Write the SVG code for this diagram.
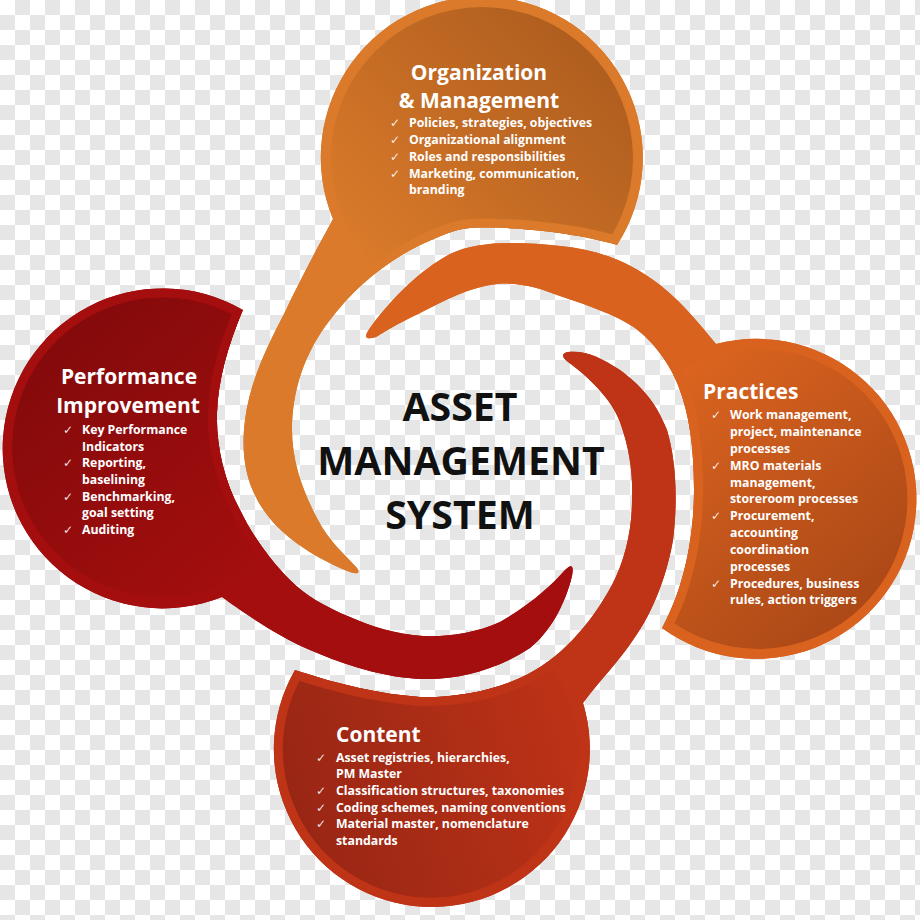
<svg xmlns="http://www.w3.org/2000/svg" xmlns:xlink="http://www.w3.org/1999/xlink" width="920" height="920" viewBox="0 0 920 920">
<style>
.t{font-family:"Open Sans","Liberation Sans",sans-serif;font-weight:700;fill:#fff}
.h{font-size:21px}
.b{font-size:12.3px}
.ck{font-family:"DejaVu Sans",sans-serif;font-size:12px;fill:#fff;fill-opacity:0.9}
.c{font-family:"Open Sans","Liberation Sans",sans-serif;font-weight:700;font-size:39.3px;fill:#111;text-anchor:middle}
</style>
<defs>
<pattern id="checker" width="30" height="30" patternUnits="userSpaceOnUse">
<rect width="30" height="30" fill="#fff"/>
<rect x="15" width="15" height="15" fill="#e6e6e6"/>
<rect y="15" width="15" height="15" fill="#e6e6e6"/>
</pattern>
<path id="p-org" d="M 617 245 A 161 161 0 1 0 333 219 C 320 243 300 280 285 312 C 268 345 250 380 245 420 C 240 460 248 488 265 512 C 285 540 320 560 350 572 Q 362 576 357 568 C 345 555 328 540 318 520 C 303 492 292 462 292 430 C 292 390 305 352 330 320 C 352 290 385 262 420 245 C 440 236 455 229 470 228 C 510 226 575 232 617 245 Z"/>
<path id="p-prac" d="M 662 628 A 160 160 0 1 0 716 344 C 700 325 685 305 660 285 C 630 262 600 250 560 246 C 520 242 480 240 450 254 C 420 270 390 300 370 328 Q 360 342 376 337 C 390 328 405 320 420 313 C 445 300 470 287 497 284 C 520 282 540 288 560 296 C 590 306 615 315 632 326 C 650 338 668 360 678 385 C 690 415 694 450 694 490 C 694 540 683 590 662 628 Z"/>
<path id="p-cont" d="M 295 670 A 158 158 0 1 0 583 703 C 600 680 620 660 633 640 C 655 610 668 570 673 540 C 678 500 676 460 667 430 C 655 400 640 385 620 370 C 600 357 585 350 568 352 Q 558 354 568 362 C 590 378 612 400 620 422 C 630 450 633 475 632 500 C 632 530 625 560 612 585 C 590 625 560 660 520 678 C 490 692 450 698 420 697 C 380 694 340 685 295 670 Z"/>
<path id="p-perf" d="M 243 310 A 160 160 0 1 0 222 597 C 240 610 275 635 310 650 C 345 665 385 678 423 679 C 460 680 500 668 530 648 C 550 632 565 605 572 576 Q 575 560 565 570 C 552 585 530 605 500 622 C 475 633 450 637 423 636 C 395 634 370 626 350 617 C 325 607 305 595 290 580 C 270 560 252 535 240 510 C 224 480 216 445 217 413 C 218 380 228 345 243 310 Z"/>
<clipPath id="c-org"><use xlink:href="#p-org"/></clipPath>
<clipPath id="c-prac"><use xlink:href="#p-prac"/></clipPath>
<clipPath id="c-cont"><use xlink:href="#p-cont"/></clipPath>
<clipPath id="c-perf"><use xlink:href="#p-perf"/></clipPath>
<linearGradient id="g-org" x1="0.15" y1="0.85" x2="0.9" y2="0.1"><stop offset="0" stop-color="#d97a2a"/><stop offset="1" stop-color="#ad5c1e"/></linearGradient>
<linearGradient id="g-prac" x1="0.2" y1="0.15" x2="0.85" y2="0.9"><stop offset="0" stop-color="#d9631f"/><stop offset="1" stop-color="#ab4817"/></linearGradient>
<linearGradient id="g-cont" x1="1" y1="0.3" x2="0" y2="0.6"><stop offset="0" stop-color="#be3317"/><stop offset="1" stop-color="#982614"/></linearGradient>
<linearGradient id="g-perf" x1="0.85" y1="0.9" x2="0.15" y2="0.1"><stop offset="0" stop-color="#a40e0e"/><stop offset="1" stop-color="#840a0b"/></linearGradient>
</defs>
<rect width="920" height="920" fill="url(#checker)"/>

<g id="node-org">
<use xlink:href="#p-org" fill="#da7a2a"/>
<circle cx="482" cy="158" r="151" fill="url(#g-org)" clip-path="url(#c-org)"/>
<use xlink:href="#p-org" fill="none" stroke="#da7a2a" stroke-width="18" clip-path="url(#c-org)"/>
<text class="t h" x="479" y="80" text-anchor="middle">Organization</text>
<text class="t h" x="479" y="108" text-anchor="middle">&amp; Management</text>
<text class="ck" x="390" y="127">✓</text><text class="t b" x="409" y="127">Policies, strategies, objectives</text>
<text class="ck" x="390" y="144">✓</text><text class="t b" x="409" y="144">Organizational alignment</text>
<text class="ck" x="390" y="161">✓</text><text class="t b" x="409" y="161">Roles and responsibilities</text>
<text class="ck" x="390" y="178">✓</text><text class="t b" x="409" y="178">Marketing, communication,</text>
<text class="t b" x="409" y="194">branding</text>
</g>

<g id="node-practices">
<use xlink:href="#p-prac" fill="#d9621f"/>
<circle cx="758" cy="499" r="150" fill="url(#g-prac)" clip-path="url(#c-prac)"/>
<use xlink:href="#p-prac" fill="none" stroke="#d9621f" stroke-width="18" clip-path="url(#c-prac)"/>
<text class="t h" x="703" y="399">Practices</text>
<text class="ck" x="711" y="419">✓</text><text class="t b" x="730" y="419">Work management,</text>
<text class="t b" x="730" y="436">project, maintenance</text>
<text class="t b" x="730" y="453">processes</text>
<text class="ck" x="711" y="470">✓</text><text class="t b" x="730" y="470">MRO materials</text>
<text class="t b" x="730" y="487">management,</text>
<text class="t b" x="730" y="503">storeroom processes</text>
<text class="ck" x="711" y="520">✓</text><text class="t b" x="730" y="520">Procurement,</text>
<text class="t b" x="730" y="537">accounting</text>
<text class="t b" x="730" y="554">coordination</text>
<text class="t b" x="730" y="571">processes</text>
<text class="ck" x="711" y="588">✓</text><text class="t b" x="730" y="588">Procedures, business</text>
<text class="t b" x="730" y="604">rules, action triggers</text>
</g>

<g id="node-content">
<use xlink:href="#p-cont" fill="#bf3317"/>
<circle cx="430" cy="750" r="148" fill="url(#g-cont)" clip-path="url(#c-cont)"/>
<use xlink:href="#p-cont" fill="none" stroke="#bf3317" stroke-width="18" clip-path="url(#c-cont)"/>
<text class="t h" x="336" y="742">Content</text>
<text class="ck" x="316" y="762">✓</text><text class="t b" x="336" y="762">Asset registries, hierarchies,</text>
<text class="t b" x="336" y="778">PM Master</text>
<text class="ck" x="316" y="795">✓</text><text class="t b" x="336" y="795">Classification structures, taxonomies</text>
<text class="ck" x="316" y="812">✓</text><text class="t b" x="336" y="812">Coding schemes, naming conventions</text>
<text class="ck" x="316" y="828">✓</text><text class="t b" x="336" y="828">Material master, nomenclature</text>
<text class="t b" x="336" y="845">standards</text>
</g>

<g id="node-performance">
<use xlink:href="#p-perf" fill="#a50e0e"/>
<circle cx="162" cy="447" r="150" fill="url(#g-perf)" clip-path="url(#c-perf)"/>
<use xlink:href="#p-perf" fill="none" stroke="#a50e0e" stroke-width="18" clip-path="url(#c-perf)"/>
<text class="t h" x="129" y="384" text-anchor="middle">Performance</text>
<text class="t h" x="128" y="413" text-anchor="middle">Improvement</text>
<text class="ck" x="63" y="434">✓</text><text class="t b" x="82" y="434">Key Performance</text>
<text class="t b" x="82" y="451">Indicators</text>
<text class="ck" x="63" y="467">✓</text><text class="t b" x="82" y="467">Reporting,</text>
<text class="t b" x="82" y="484">baselining</text>
<text class="ck" x="63" y="501">✓</text><text class="t b" x="82" y="501">Benchmarking,</text>
<text class="t b" x="82" y="517">goal setting</text>
<text class="ck" x="63" y="534">✓</text><text class="t b" x="82" y="534">Auditing</text>
</g>

<g id="node-center">
<text class="c" x="460" y="421">ASSET</text>
<text class="c" x="461" y="475">MANAGEMENT</text>
<text class="c" x="460" y="529">SYSTEM</text>
</g>
</svg>
